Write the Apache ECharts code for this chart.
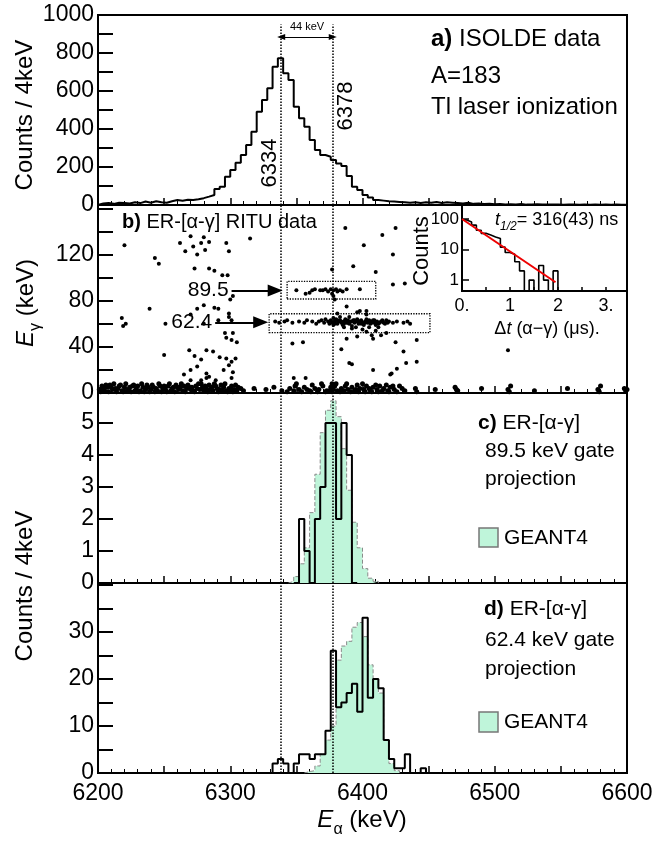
<!DOCTYPE html>
<html><head><meta charset="utf-8">
<script src="https://cdn.jsdelivr.net/npm/echarts@6/dist/echarts.min.js"></script>
<style>html,body{margin:0;padding:0;background:#fff}#c{width:656px;height:843px}</style>
</head><body><div id="c"></div>
<script>
// ---------------- DATA ----------------
const binWidth = 4; // keV
// a) ISOLDE data, 4 keV bins starting at 6200 keV
const aStart = 6200;
const aCounts = [8,10,6,12,10,8,14,10,18,12,20,14,12,20,26,22,28,26,30,36,
  44,53,84,96,149,184,223,263,316,386,491,553,614,728,772,693,658,517,456,412,
  342,289,263,254,237,219,205,153,96,79,53,40,26,23,20,18,16,14,12,15,
  10,14,12,16,10,14,12,10,8,12,6,8,5,6,4,5,3,4,3,5,
  2,3,4,2,3,2,3,1,2,3,1,2,1,2,1,2,1,2,1,1];
// c) 89.5 keV gate projection
const cDataStart = 6348;
const cData = [0,2,1,0,2,3,5,5,2,5,4,0];
const cGeantStart = 6344;
const cGeant = [0.05,0.2,0.6,1.1,2.2,3.4,4.7,5.4,5.7,5.2,4.2,2.9,1.9,1.1,0.45,0.15,0.05];
// d) 62.4 keV gate projection
const dDataStart = 6328;
const dData = [0,2,3,2,0,2,4,4,3,4,4,9,26,14,15,17,19,13,33,16,20,18,7,3,1,1,4,0,0,1,0];
const dGeantStart = 6356;
const dGeant = [0.3,0.5,1.5,4,7,10,24,27,28,31,32,29,23,20,17,7,2,0.5];
// inset: decay-time histogram, 0.1 us bins
const insetStart = 0;
const insetBin = 0.1;
const insetCounts = [93,80,63,43,34,30,26,23,12,8,7,4,2,0,1,0,3,1,0,2];
const insetFit = [[0,100],[1.95,0.85]];
// b) scatter Ealpha (keV), Egamma (keV)
const bUpperLeft = [[6220,128],[6243,117],[6246,112],[6262,130],[6266,123],[6270,136],[6272,127],[6275,120],[6278,130],[6280,135],[6281,124],[6284,131],[6273,108],[6284,108],[6288,106],[6297,130],[6299,123],[6315,134],[6294,102],[6298,102],
  [6218,65],[6221,60],[6219,58],[6239,73],[6251,60],[6270,68],[6275,73],[6280,60],[6288,74],[6291,63],[6299,66],[6280,76],[6291,73],[6299,69],[6301,63],[6300,81],[6302,84],[6296,52],[6301,46],[6305,44],[6297,48],[6302,52],
  [6250,33],[6269,37],[6273,32],[6278,29],[6282,37],[6287,36],[6292,31],[6297,30],[6301,27],[6304,30],[6299,24],[6295,20],[6302,18],[6270,20],[6275,23],[6282,17],[6265,16],[6284,14],[6270,11],[6278,11],[6282,13],[6289,11],[6301,13]];
const bScattered = [[6387,143],[6415,137],[6425,143],[6401,128],[6423,120],[6377,107],[6393,110],[6410,105],[6423,94],[6432,95],[6355,44],[6384,38],[6431,36],[6392,25],[6408,20],[6426,21],[6441,27],[6357,13],[6421,16],[6425,44],[6441,46],[6390,26],[6422,17],[6433,26],[6510,37],[6348,13],[6347,43],
  [6388,75],[6398,71],[6403,71],[6403,68],[6381,69],[6396,70],[6388,47],[6396,49],[6407,50],[6408,47],[6414,50],[6403,53],[6392,56],[6400,55],[6410,54],[6418,52]];
const bBand89 = [[6350,89],[6357,86],[6360,87],[6362,89],[6364,90],[6368,89],[6370,89],[6372,90],[6374,88],[6376,90],[6377,86],[6378,89],[6378,84],[6379,81],[6380,90],[6381,88],[6383,89],[6385,88],[6388,90],[6398,90]];
const bBand62 = [[6334,62],[6337,61],[6341,62],[6343,63],[6347,61],[6352,62],[6356,61],[6358,63],[6362,62],[6365,60],[6367,62],[6369,63],[6371,61],[6372,64],[6374,62],[6375,60],[6376,63],[6377,61],[6378,65],[6378,59],[6379,62],[6380,64],[6381,60],[6382,62],[6383,63],[6384,61],[6385,59],[6386,62],[6387,64],[6388,61],[6389,63],[6390,60],[6391,62],[6392,58],[6393,63],[6394,61],[6395,62],[6396,64],[6397,60],[6398,62],[6399,63],[6400,61],[6401,59],[6402,62],[6403,64],[6404,61],[6405,63],[6406,60],[6407,62],[6408,61],[6409,63],[6410,59],[6411,62],[6412,60],[6414,62],[6416,61],[6418,63],[6420,62],[6423,61],[6426,62],[6431,61],[6434,62],[6436,60],[6383,66],[6390,66],[6395,57],[6405,57],[6412,57],[6386,57],
  [6379,60],[6381,63],[6384,62],[6386,60],[6389,61],[6392,62],[6394,63],[6397,62],[6399,60],[6402,61],[6404,62],[6406,62],[6408,63],[6410,61],[6413,61],[6415,63],[6417,60],[6419,61]];
const bBottom = [[6201,3],[6203,6],[6205,2],[6207,5],[6209,7],[6211,3],[6213,4],[6216,6],[6218,2],[6220,5],[6223,3],[6226,6],[6229,4],[6232,2],[6234,5],[6237,7],[6240,3],[6242,5],[6245,2],[6247,6],[6249,4],[6251,3],[6253,6],[6255,2],[6257,5],[6259,7],[6261,3],[6262,5],[6264,2],[6265,6],[6267,4],[6268,7],[6270,3],[6271,5],[6272,2],[6274,6],[6275,4],[6276,8],[6277,3],[6279,5],[6280,2],[6281,6],[6282,4],[6284,7],[6285,3],[6286,5],[6287,2],[6289,6],[6290,4],[6292,3],[6293,7],[6295,5],[6297,2],[6299,4],[6301,6],[6303,3],[6306,5],[6310,2],[6318,4],[6327,3],[6333,5],[6339,2],[6345,4],[6349,6],[6352,3],[6356,5],[6360,2],[6362,7],[6364,4],[6367,3],[6370,6],[6373,2],[6376,5],[6377,8],[6378,3],[6379,6],[6381,2],[6384,4],[6387,6],[6389,3],[6392,5],[6394,2],[6396,7],[6398,4],[6401,3],[6403,6],[6406,2],[6408,5],[6411,3],[6413,6],[6416,4],[6419,2],[6421,5],[6424,3],[6428,6],[6432,2],[6440,4],[6455,3],[6470,5],[6472,2],[6490,4],[6510,3],[6512,6],[6530,2],[6555,4],[6578,3],[6580,6],[6598,4],[6599,2],
  [6202,1],[6204,4],[6206,7],[6208,1],[6210,5],[6212,8],[6214,1],[6215,4],[6217,7],[6219,1],[6221,8],[6222,2],[6224,5],[6225,1],[6227,7],[6228,2],[6230,6],[6231,1],[6233,8],[6235,1],[6236,3],[6238,5],[6239,1],[6241,7],[6243,1],[6244,4],[6246,8],[6248,1],[6250,6],[6252,1],[6254,8],[6256,4],[6258,1],[6260,5],[6263,8],[6266,1],[6269,5],[6273,1],[6278,8],[6283,1],[6288,8],[6291,1],[6294,2],[6296,8],[6298,1],[6300,3],[6302,1],[6304,7],[6305,2],[6308,4],[6343,1],[6348,2],[6350,8],[6354,1],[6358,3],[6361,1],[6366,1],[6369,8],[6372,1],[6375,2],[6377,1],[6380,8],[6383,1],[6386,2],[6388,8],[6391,1],[6395,3],[6397,1],[6400,8],[6402,1],[6405,4],[6407,1],[6410,7],[6412,1],[6415,2],[6418,7],[6420,1],[6423,6],[6426,1],[6430,4],[6441,1],[6471,3],[6511,1],[6579,1],[6600,3]];
// gates (keV ranges) and arrows
const gate89 = {x:[6343,6410], y:[81.5,96.8], label:'89.5', arrowX:[6301,6334], arrowY:88.8};
const gate62 = {x:[6329.4,6451], y:[52.4,68.7], label:'62.4', arrowX:[6288.6,6323], arrowY:61.3};
// dotted reference lines (drawn positions) and their labels
const refLines = [6338.5, 6377.5];
const refLabels = ['6334','6378'];
const xTickLabels = [6200,6300,6400,6500,6600];

// ---------------- BUILD ----------------
const FONT = '"Liberation Sans", Arial, Helvetica, sans-serif';
function hist(start, w, vals, floor){
  const f = v => (floor !== undefined && v <= 0) ? floor : v;
  const p = [[start, floor !== undefined ? floor : 0]];
  vals.forEach((v,i)=>p.push([+(start+i*w).toFixed(6), f(v)]));
  const e = +(start+vals.length*w).toFixed(6);
  p.push([e, f(vals[vals.length-1])]);
  p.push([e, floor !== undefined ? floor : 0]);
  return p;
}
const chart = echarts.init(document.getElementById('c'));
const gridBase = {show:true, borderColor:'#000', borderWidth:2};
const grids = [
  {left:98, right:29, top:15, height:190},
  {left:98, right:29, top:205, height:188},
  {left:98, right:29, top:393, height:190},
  {left:98, right:29, top:583, height:190},
  {left:462, right:29, top:205, height:86, backgroundColor:'#fff'}
].map(g=>Object.assign({}, gridBase, g));

const xMain = i => ({type:'value', gridIndex:i, min:6200, max:6600, interval:50,
  axisLine:{show:false}, splitLine:{show:false},
  axisTick:{show:true, inside:true, length:7, lineStyle:{color:'#000', width:1.5}},
  minorTick:{show:true, splitNumber:5, length:4, lineStyle:{color:'#000', width:1}},
  axisLabel:{show:i===3, formatter:v=>xTickLabels.includes(v)?String(v):'', fontSize:23, color:'#000', margin:9, fontFamily:FONT}
});
const yBase = (i, min, max, interval, fmt, showMax) => ({type:'value', gridIndex:i, min, max, interval,
  axisLine:{show:false}, splitLine:{show:false},
  axisTick:{show:true, inside:true, length:15, lineStyle:{color:'#000', width:2}},
  axisLabel:{formatter:fmt, fontSize:23, color:'#000', margin:4, fontFamily:FONT, showMaxLabel:!!showMax}
});
const xAxes = [xMain(0), xMain(1), xMain(2), xMain(3),
  {type:'value', gridIndex:4, min:0, max:3.44, interval:0.5,
   axisLine:{show:false}, splitLine:{show:false},
   axisTick:{show:true, inside:true, length:4, lineStyle:{color:'#000', width:1.5}},
   axisLabel:{fontSize:18, color:'#000', margin:6, fontFamily:FONT, showMaxLabel:false,
     formatter:v=> v===0?'0.':(v===3?'3.':(Number.isInteger(v)?String(v):''))}}];
const yAxes = [
  yBase(0,0,1000,100,v=>v%200===0?String(v):'', true),
  yBase(1,0,163,20,v=>(v%40===0&&v<=120)?String(v):''),
  yBase(2,0,5.94,1,v=>(Number.isInteger(v)&&v<=5)?String(v):''),
  yBase(3,0,40.4,5,v=>(v%10===0&&v<=30)?String(v):''),
  {type:'log', gridIndex:4, min:0.44, max:288, logBase:10,
   axisLine:{show:false}, splitLine:{show:false},
   axisTick:{show:true, inside:true, length:7, lineStyle:{color:'#000', width:1.5}},
   axisLabel:{fontSize:17, color:'#000', margin:3, fontFamily:FONT, showMinLabel:false, showMaxLabel:false,
     formatter:v=>{const r=Math.round(v); return ([1,10,100].includes(r)&&Math.abs(v-r)<1e-6)?String(r):'';}}}
];
const dotted = {color:'#000', type:'dotted', width:1.5};
const vLines = {silent:true, symbol:['none','none'], label:{show:false}, lineStyle:dotted, animation:false,
  data: refLines.map(x=>({xAxis:x}))};
const histLine = {color:'#000', width:2};
const green = '#bff5da';
const arrowLine = g => [{coord:[g.arrowX[0], g.arrowY], symbol:'none', lineStyle:{type:'solid', width:2, color:'#000'},
  label:{show:true, position:'start', formatter:g.label, fontSize:21, color:'#000', distance:3, fontFamily:FONT}},
  {coord:[g.arrowX[1], g.arrowY], symbol:'triangle', symbolSize:[12,15]}];

const series = [
  {type:'line', xAxisIndex:0, yAxisIndex:0, data:hist(aStart,binWidth,aCounts), step:'end', symbol:'none', lineStyle:histLine, animation:false,
   markLine:{silent:true, symbol:['none','none'], label:{show:false}, lineStyle:dotted, animation:false,
     data:[
       [{coord:[refLines[0],0]},{coord:[refLines[0],950]}],
       [{coord:[refLines[1],0]},{coord:[refLines[1],950]}],
       [{coord:[refLines[0],884], symbol:'triangle', symbolSize:[6,8], lineStyle:{type:'solid', width:1.2, color:'#000'}},
        {coord:[refLines[1],884], symbol:'triangle', symbolSize:[6,8]}]
     ]}},
  {type:'scatter', xAxisIndex:1, yAxisIndex:1, data:[].concat(bUpperLeft,bScattered,bBand89,bBand62,bBottom),
   symbolSize:v=> v[1] < 10 ? 5 : 4, itemStyle:{color:'#000', opacity:1}, animation:false,
   markArea:{silent:true, itemStyle:{color:'rgba(0,0,0,0)', borderColor:'#000', borderWidth:1.3, borderType:'dotted'},
     data:[[{coord:[gate89.x[0],gate89.y[0]]},{coord:[gate89.x[1],gate89.y[1]]}],
           [{coord:[gate62.x[0],gate62.y[0]]},{coord:[gate62.x[1],gate62.y[1]]}]]},
   markLine:{silent:true, symbol:['none','none'], label:{show:false}, lineStyle:dotted, animation:false,
     data:[{xAxis:refLines[0]},{xAxis:refLines[1]}, arrowLine(gate89), arrowLine(gate62)]}},
  {type:'line', name:'GEANT4', xAxisIndex:2, yAxisIndex:2, data:hist(cGeantStart,binWidth,cGeant), step:'end', symbol:'none',
   lineStyle:{color:'#8a8a8a', type:'dashed', width:1}, areaStyle:{color:green, opacity:1}, animation:false},
  {type:'line', xAxisIndex:2, yAxisIndex:2, data:hist(cDataStart,binWidth,cData), step:'end', symbol:'none', lineStyle:histLine, animation:false, markLine:vLines},
  {type:'line', name:'GEANT4', xAxisIndex:3, yAxisIndex:3, data:hist(dGeantStart,binWidth,dGeant), step:'end', symbol:'none',
   lineStyle:{color:'#8a8a8a', type:'dashed', width:1}, areaStyle:{color:green, opacity:1}, animation:false},
  {type:'line', xAxisIndex:3, yAxisIndex:3, data:hist(dDataStart,binWidth,dData), step:'end', symbol:'none', lineStyle:histLine, animation:false, markLine:vLines},
  {type:'line', xAxisIndex:4, yAxisIndex:4, data:hist(insetStart,insetBin,insetCounts,0.1), step:'end', symbol:'none', lineStyle:{color:'#000', width:1.6}, clip:true, animation:false},
  {type:'line', xAxisIndex:4, yAxisIndex:4, data:insetFit, symbol:'none', lineStyle:{color:'#e00', width:2}, animation:false}
];

// ---------------- TEXT ----------------
function T(x, y, text, o){
  o = o || {};
  return {type:'text', x, y, rotation:o.rot||0, z:100, silent:true,
    style:{text, fontSize:o.fs||21, fontFamily:FONT, fill:'#000', align:o.align||'left', verticalAlign:'middle',
      fontWeight:o.fw||'normal', rich:o.rich}};
}
const boldRich = fs => ({b:{fontWeight:'bold', fontSize:fs, fontFamily:FONT}});
const subRich = (fs, sfs, pad) => ({
  i:{fontStyle:'italic', fontSize:fs, fontFamily:FONT, verticalAlign:'bottom', padding:[0,0,pad,0]},
  s:{fontSize:sfs, fontFamily:FONT, verticalAlign:'bottom'},
  si:{fontSize:sfs, fontStyle:'italic', fontFamily:FONT, verticalAlign:'bottom'},
  n:{fontSize:fs, fontFamily:FONT, verticalAlign:'bottom', padding:[0,0,pad,0]}
});
const R = Math.PI/2;
const graphic = [
  T(25,115,'Counts / 4keV',{fs:24, align:'center', rot:R}),
  T(25,586,'Counts / 4keV',{fs:24, align:'center', rot:R}),
  T(29,303,'{i|E}{s|γ}{n| (keV)}',{fs:24, align:'center', rot:R, rich:subRich(24,16,5)}),
  T(362,823,'{i|E}{s|α}{n| (keV)}',{fs:24, align:'center', rich:subRich(24,16,5)}),
  T(431,39,'{b|a)} ISOLDE data',{fs:24, rich:boldRich(24)}),
  T(431,76,'A=183',{fs:24}),
  T(431,107,'Tl laser ionization',{fs:24}),
  T(307,27,'44 keV',{fs:11, align:'center'}),
  T(270,163,refLabels[0],{fs:22, align:'center', rot:R}),
  T(346,106,refLabels[1],{fs:22, align:'center', rot:R}),
  T(122,222,'{b|b)} ER-[α-γ] RITU data',{fs:20, rich:boldRich(20)}),
  T(422,251,'Counts',{fs:22, align:'center', rot:R}),
  T(495,222,'{i|t}{si|1/2}{n|= 316(43) ns}',{fs:18, rich:subRich(18,12,4)}),
  T(547,329,'{n|Δ}{i|t}{n| (α−γ) (μs).}',{fs:18, align:'center', rich:subRich(18,12,0)}),
  T(478,423,'{b|c)} ER-[α-γ]',{fs:21, rich:boldRich(21)}),
  T(485,451,'89.5 keV gate',{fs:21}),
  T(485,479,'projection',{fs:21}),
  {type:'rect', z:100, shape:{x:479,y:528,width:19,height:19}, style:{fill:green, stroke:'#777', lineWidth:1.5}},
  T(504,538,'GEANT4',{fs:21}),
  T(484,609,'{b|d)} ER-[α-γ]',{fs:21, rich:boldRich(21)}),
  T(485,640,'62.4 keV gate',{fs:21}),
  T(485,669,'projection',{fs:21}),
  {type:'rect', z:100, shape:{x:479,y:712,width:19,height:20}, style:{fill:green, stroke:'#777', lineWidth:1.5}},
  T(504,722,'GEANT4',{fs:21})
];

chart.setOption({
  animation:false,
  backgroundColor:'#fff',
  textStyle:{fontFamily:FONT},
  grid:grids, xAxis:xAxes, yAxis:yAxes, series, graphic
});
</script></body></html>
